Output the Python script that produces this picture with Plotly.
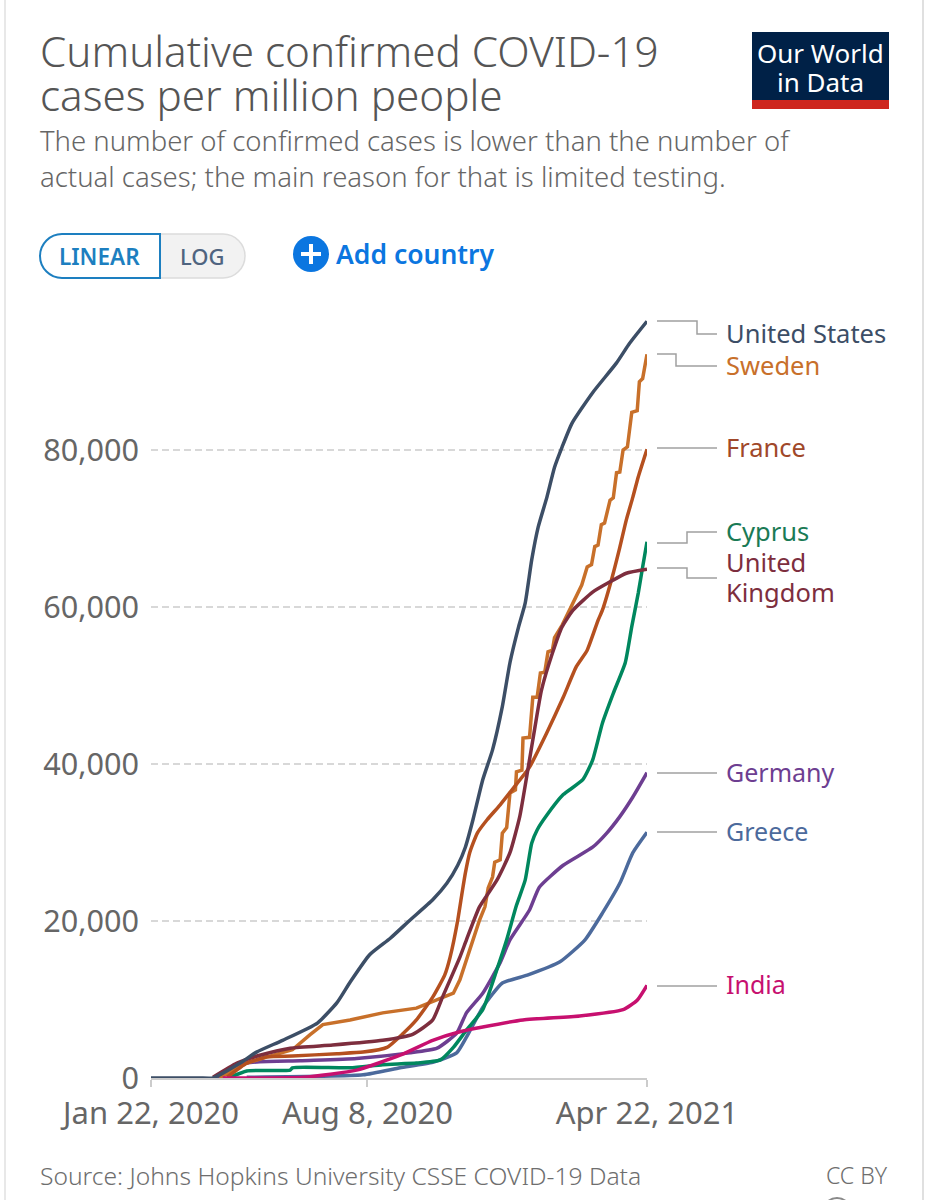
import pandas as pd
import plotly.graph_objects as go

W, H = 927, 1200
START = pd.Timestamp("2020-01-22")

# Days since 22 Jan 2020, and cases per million in thousands
us_day = [0,15,30,45,57,82,97,121,153,171,183,201,220,238,259,272,282,289,296,305,314,323,330,338,344,350,356,364,371,378,387,406,428,440,456]
us_val = [0,0,0,0,0,1.9,3.3,4.8,7.0,9.6,12.2,15.7,17.8,20.1,22.7,24.8,27.1,29.4,32.9,38.0,41.8,47.3,52.9,57.5,60.5,66.0,70.2,74.0,77.8,80.4,83.4,87.3,91.1,93.6,96.4]
se_day = [63,88,107,130,146,158,183,213,244,259,278,284,290,296,302,307,310,314,316,321,323,327,330,335,336,341,342,348,350,351,355,358,362,365,369,371,378,388,396,401,405,408,411,414,417,422,425,428,431,434,438,442,447,449,452,456]
se_val = [0,1.9,2.7,3.6,5.5,6.8,7.4,8.3,8.9,9.7,10.8,12.5,15.0,17.6,20.1,21.8,24.2,25.6,27.5,27.8,31.2,31.9,36.3,36.7,39.0,39.2,43.3,43.4,47.3,48.5,48.5,51.6,51.7,54.3,54.5,56.1,57.7,60.5,62.8,65.1,65.4,67.7,67.9,70.5,70.7,73.6,73.9,77.1,77.2,80.0,80.4,84.8,85.0,88.7,89.1,92.2]
fr_day = [70,88,107,130,171,195,217,232,244,259,270,275,282,286,289,293,300,309,321,333,348,364,379,391,401,411,415,424,431,437,443,448,456]
fr_val = [0.1,1.9,2.7,2.8,3.1,3.3,3.9,5.7,7.4,10.3,13.1,15.4,20.1,23.6,26.1,28.7,31.2,32.9,34.8,36.9,39.6,44.0,48.5,52.4,54.5,58.3,59.6,63.8,67.6,71.1,74.0,76.6,80.1]
cy_day = [73,88,128,130,183,213,244,266,278,290,305,318,327,336,344,350,355,364,379,397,406,415,425,436,442,448,452,456]
cy_val = [0.1,0.9,1.0,1.3,1.3,1.7,1.9,2.3,3.9,6.1,8.7,13.8,17.6,22.0,25.2,29.9,31.6,33.5,36.1,38.0,40.5,45.2,49.0,52.9,57.5,61.8,65.1,68.3]
uk_day = [57,79,100,128,167,213,241,259,268,284,290,302,318,330,339,346,353,359,369,378,388,406,422,437,456]
uk_val = [0.1,1.9,2.9,3.8,4.2,4.8,5.6,7.4,10.3,15.4,17.6,21.8,25.2,28.7,33.3,38.9,44.7,49.4,54.1,57.5,59.6,61.9,63.2,64.3,64.8]
de_day = [61,88,137,189,238,263,281,290,305,321,330,348,357,379,406,419,431,443,456]
de_val = [0.1,1.9,2.2,2.5,3.2,3.8,5.7,8.3,10.8,14.7,17.6,21.4,24.3,27.1,29.4,31.2,33.3,35.8,38.9]
gr_day = [88,195,229,259,281,290,305,323,346,376,399,415,431,443,456]
gr_val = [0.1,0.4,1.3,2.0,3.2,5.2,9.0,12.1,13.1,14.8,17.6,21.0,24.8,28.7,31.3]
in_day = [66,140,189,229,259,284,305,342,394,434,447,456]
in_val = [0,0.1,1.0,2.9,4.8,5.9,6.5,7.4,7.9,8.7,9.9,11.8]

y_ticks = [0, 20000, 40000, 60000, 80000]
y_labels = ["0", "20,000", "40,000", "60,000", "80,000"]
x_ticks = ["2020-01-22", "2020-08-08", "2021-04-22"]
x_labels = ["Jan 22, 2020", "Aug 8, 2020", "Apr 22, 2021"]

FONT = "Noto Sans"
def X(p): return p / W
def Y(p): return 1 - p / H

series = [
    ("Greece", gr_day, gr_val, "#4c6a9c"),
    ("Germany", de_day, de_val, "#6d3e91"),
    ("Cyprus", cy_day, cy_val, "#00875e"),
    ("Sweden", se_day, se_val, "#c8702a"),
    ("France", fr_day, fr_val, "#b5501f"),
    ("United Kingdom", uk_day, uk_val, "#7d2e3e"),
    ("India", in_day, in_val, "#c7106f"),
    ("United States", us_day, us_val, "#3c4e66"),
]

fig = go.Figure()
for name, d, v, c in series:
    shape = dict(shape="linear") if name == "Sweden" else dict(shape="spline", smoothing=0.5)
    fig.add_trace(go.Scatter(
        x=[START + pd.Timedelta(days=i) for i in d], y=[i * 1000 for i in v],
        mode="lines", name=name, line=dict(color=c, width=3.5, **shape), cliponaxis=False, showlegend=False,
    ))

shapes = []
def line(pts, color="#a0a0a0", width=1.5):
    path = "M" + " L".join(f"{X(a):.5f},{Y(b):.5f}" for a, b in pts)
    shapes.append(dict(type="path", xref="paper", yref="paper", path=path,
                       line=dict(color=color, width=width), layer="below"))
def fill(x0, y0, x1, y1, color):
    shapes.append(dict(type="rect", xref="paper", yref="paper", x0=X(x0), x1=X(x1), y0=Y(y0), y1=Y(y1),
                       fillcolor=color, line=dict(width=0), layer="below"))

# page edges
line([(5, 0), (5, 1200)], "#e8e8e8", 2)
line([(923, 0), (923, 1200)], "#e0e0e0", 2)

# connectors
for pts in [
    [(657,321),(697,321),(697,334),(717,334)],
    [(657,354),(676,354),(676,366),(717,366)],
    [(657,448),(717,448)],
    [(657,543),(687,543),(687,532),(717,532)],
    [(657,568),(687,568),(687,578),(717,578)],
    [(657,773),(717,773)],
    [(657,832),(717,832)],
    [(657,986),(717,986)],
]:
    line(pts)

# logo
fill(752, 32, 889, 100, "#002147")
fill(752, 100, 889, 109, "#ce261e")

# toggle
def pill(x0, x1, y0, y1, r, left, right):
    k = r * 0.55
    p = f"M{X(x0+(r if left else 0)):.5f},{Y(y0):.5f} L{X(x1-(r if right else 0)):.5f},{Y(y0):.5f} "
    if right:
        p += f"C{X(x1-r+k):.5f},{Y(y0):.5f} {X(x1):.5f},{Y(y0+r-k):.5f} {X(x1):.5f},{Y(y0+r):.5f} "
        p += f"C{X(x1):.5f},{Y(y1-r+k):.5f} {X(x1-r+k):.5f},{Y(y1):.5f} {X(x1-r):.5f},{Y(y1):.5f} "
    else:
        p += f"L{X(x1):.5f},{Y(y1):.5f} "
    if left:
        p += f"L{X(x0+r):.5f},{Y(y1):.5f} "
        p += f"C{X(x0+r-k):.5f},{Y(y1):.5f} {X(x0):.5f},{Y(y1-r+k):.5f} {X(x0):.5f},{Y(y0+r):.5f} "
        p += f"C{X(x0):.5f},{Y(y0+r-k):.5f} {X(x0+r-k):.5f},{Y(y0):.5f} {X(x0+r):.5f},{Y(y0):.5f} "
    else:
        p += f"L{X(x0):.5f},{Y(y1):.5f} "
    return p + "Z"

shapes.append(dict(type="path", xref="paper", yref="paper", path=pill(160, 245, 234, 278, 22, False, True),
                   fillcolor="#f2f2f2", line=dict(color="#dcdcdc", width=1.5), layer="below"))
shapes.append(dict(type="path", xref="paper", yref="paper", path=pill(40, 160, 234, 278, 22, True, False),
                   fillcolor="#ffffff", line=dict(color="#1d7fc0", width=2), layer="below"))

# add-country icon
shapes.append(dict(type="circle", xref="paper", yref="paper", x0=X(293), x1=X(329), y0=Y(272), y1=Y(236),
                   fillcolor="#0b76e0", line=dict(width=0), layer="below"))
fill(301, 252, 321, 256, "#ffffff")
shapes[-1]["layer"] = "above"
fill(309, 244, 313, 264, "#ffffff")
shapes[-1]["layer"] = "above"

# CC icon, cut by the page
shapes.append(dict(type="circle", xref="paper", yref="paper", x0=X(823), x1=X(851), y0=Y(1226), y1=Y(1198),
                   line=dict(color="#8a8a8a", width=2), layer="below"))

notes = []
def text(x, y, s, size, color, anchor="left", weight=None):
    f = dict(family=FONT, size=size, color=color)
    if weight:
        f["weight"] = weight
    notes.append(dict(xref="paper", yref="paper", x=X(x), y=Y(y), text=s, showarrow=False,
                      xanchor=anchor, yanchor="middle", font=f, align=anchor))

text(38, 51, "Cumulative confirmed COVID-19", 42.2, "#555555", weight=300)
text(38, 95, "cases per million people", 42.2, "#555555", weight=300)
text(38, 141, "The number of confirmed cases is lower than the number of", 27.5, "#666666", weight=300)
text(38, 177, "actual cases; the main reason for that is limited testing.", 27.5, "#666666", weight=300)
text(820, 53, "Our World", 26, "#ffffff", "center")
text(820, 82, "in Data", 26, "#ffffff", "center")
text(99, 256, "LINEAR", 22.5, "#1d7fc0", "center", 600)
text(202, 256, "LOG", 22, "#4f6480", "center", 500)
text(334, 254, "Add country", 26.5, "#0b76e0", "left", 600)
text(38, 1175, "Source: Johns Hopkins University CSSE COVID-19 Data", 24.6, "#6e6e6e", weight=300)
text(890, 1175, "CC BY", 23, "#6e6e6e", "right", 300)

text(724, 333, "United States", 25.5, "#3c4e66")
text(724, 365, "Sweden", 25.5, "#c8702a")
text(724, 447, "France", 25.5, "#a0482a")
text(724, 531, "Cyprus", 25.5, "#1a7a55")
text(724, 562, "United", 25.5, "#7d2e3e")
text(724, 592, "Kingdom", 25.5, "#7d2e3e")
text(724, 772, "Germany", 25, "#6d3e91")
text(724, 831, "Greece", 25, "#4c6a9c")
text(724, 984, "India", 25, "#c7106f")

px_per_unit = 628 / 80000
y_top = 97000

fig.update_layout(
    width=W, height=H, margin=dict(l=0, r=0, t=0, b=0),
    paper_bgcolor="white", plot_bgcolor="white",
    font=dict(family=FONT, color="#666666"),
    shapes=shapes, annotations=notes,
    xaxis=dict(
        type="date", domain=[X(151), X(647)], range=["2020-01-22", "2021-04-22"],
        tickmode="array", tickvals=x_ticks, ticktext=x_labels, automargin=False,
        showgrid=False, zeroline=False, showline=True, linecolor="#cccccc", linewidth=2,
        ticks="outside", ticklen=7, tickwidth=2, tickcolor="#cccccc", layer="below traces",
        tickfont=dict(size=31, color="#666666"), ticklabeloverflow="allow",
    ),
    yaxis=dict(
        domain=[Y(1078), Y(1078 - y_top * px_per_unit)], range=[0, y_top], automargin=False,
        tickmode="array", tickvals=y_ticks, ticktext=y_labels,
        showgrid=True, gridcolor="#d8d8d8", gridwidth=2, griddash="7px,4px",
        zeroline=False, showline=False, ticks="", ticklabelstandoff=11,
        tickfont=dict(size=30.6, color="#666666"),
    ),
)

fig.write_html("out.html", config={"displayModeBar": False}, post_script="document.body.style.margin='0';")
